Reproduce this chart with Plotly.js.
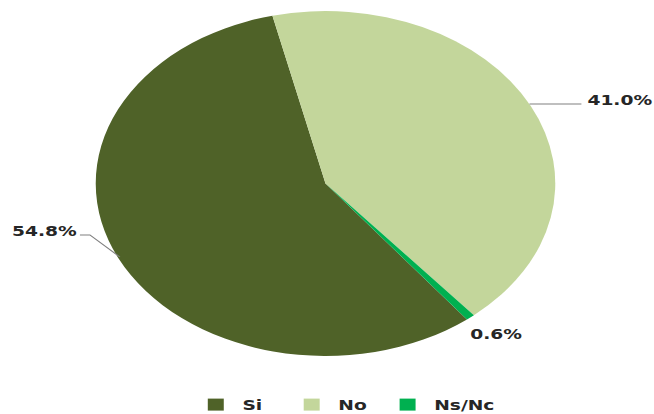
<!DOCTYPE html>
<html>
<head>
<meta charset="utf-8">
<script src="https://cdn.plot.ly/plotly-3.0.1.min.js"></script>
<style>
  html, body { margin: 0; padding: 0; background: #ffffff; overflow: hidden; }
  #wrap { width: 654px; height: 414px; overflow: hidden; }
  #chart { width: 491px; height: 414px; transform: scaleX(1.332); transform-origin: 0 0; }
</style>
</head>
<body>
<div id="wrap"><div id="chart"></div></div>
<script>
// Data
const categories = ["Si", "No", "Ns/Nc"];
const values = [54.8, 41.0, 0.6];
const colors = ["#4f6228", "#c3d69b", "#00b050"];

// Label placement (unscaled px: x, y) – styling only
const W = 491, H = 414;
const labelPos = [[33, 231], [465.5, 100], [372, 334]];
const labelFont = { family: "DejaVu Sans, Verdana, sans-serif", size: 14, color: "#262626", weight: 700 };

const px = x => x / W;
const py = y => 1 - y / H;

const annotations = categories.map((c, i) => ({
  xref: "paper", yref: "paper",
  x: px(labelPos[i][0]), y: py(labelPos[i][1]),
  text: "<b>" + values[i].toFixed(1) + "%</b>",
  showarrow: false,
  font: labelFont,
  xanchor: "center", yanchor: "middle"
}));

const lineStyle = { color: "#808080", width: 1 };
const shapes = [
  { type: "path", xref: "paper", yref: "paper",
    path: `M ${px(60)} ${py(235)} L ${px(67.5)} ${py(235)} L ${px(90)} ${py(257)}`,
    line: lineStyle },
  { type: "line", xref: "paper", yref: "paper",
    x0: px(397.5), y0: py(104), x1: px(436.5), y1: py(104), line: lineStyle }
];

const cx = 325.5 / 1.332, cy = 183.5, r = 172.5;

const trace = {
  type: "pie",
  labels: categories,
  values: values,
  sort: false,
  direction: "clockwise",
  rotation: 142,
  textinfo: "none",
  hoverinfo: "label+percent",
  marker: { colors: colors, line: { width: 0 } },
  domain: { x: [px(cx - r), px(cx + r)], y: [py(cy + r), py(cy - r)] }
};

const layout = {
  width: W, height: H,
  margin: { l: 0, r: 0, t: 0, b: 0, pad: 0, autoexpand: false },
  paper_bgcolor: "#ffffff",
  showlegend: true,
  legend: {
    orientation: "h",
    x: px(142), xanchor: "left",
    y: py(405), yanchor: "middle",
    font: labelFont,
    entrywidth: 27,
    itemwidth: 30,
    bgcolor: "rgba(0,0,0,0)"
  },
  annotations: annotations,
  shapes: shapes
};

Plotly.newPlot("chart", [trace], layout, { displayModeBar: false, staticPlot: true }).then(gd => {
  gd.querySelectorAll(".legend [clip-path]").forEach(el => el.removeAttribute("clip-path"));
});
</script>
</body>
</html>
